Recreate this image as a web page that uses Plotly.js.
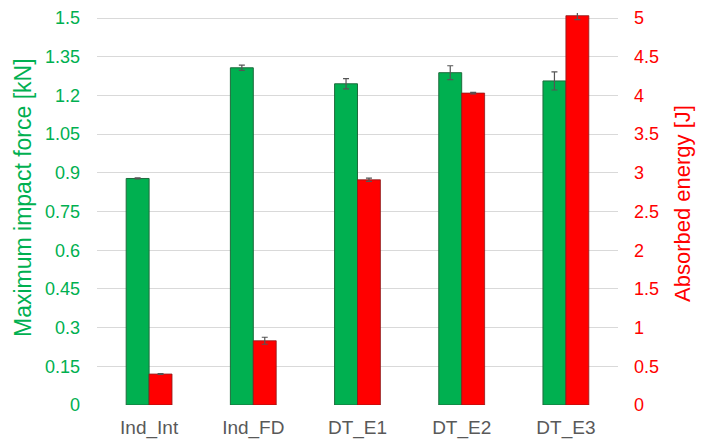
<!DOCTYPE html>
<html>
<head>
<meta charset="utf-8">
<script src="https://cdn.plot.ly/plotly-3.0.1.min.js"></script>
<style>html,body{margin:0;padding:0;background:#fff;}#chart{width:701px;height:446px;}</style>
</head>
<body>
<div id="chart"></div>
<script>
const categories = ["Ind_Int", "Ind_FD", "DT_E1", "DT_E2", "DT_E3"];
const forceValues = [0.878, 1.307, 1.245, 1.288, 1.256];
const forceErrors = [0.002, 0.010, 0.020, 0.027, 0.035];
const energyValues = [0.40, 0.83, 2.91, 4.03, 5.03];
const energyErrors = [0.005, 0.045, 0.02, 0.01, 0.05];
const leftTicks = [0, 0.15, 0.3, 0.45, 0.6, 0.75, 0.9, 1.05, 1.2, 1.35, 1.5];
const rightTicks = [0, 0.5, 1, 1.5, 2, 2.5, 3, 3.5, 4, 4.5, 5];
const leftTitle = "Maximum impact force [kN]";
const rightTitle = "Absorbed energy [J]";

const font = "Liberation Sans, Arial, sans-serif";
const green = "#00B050";
const red = "#FF0000";

// headroom so the tallest bar (just above 5 J) is not clipped; 1.5 / 5 stay at the same pixel row
const headroom = 392 / 387;

const traces = [
  {
    type: "bar", x: categories, y: forceValues, yaxis: "y",
    width: 0.22, offset: -0.22,
    marker: {color: green, line: {color: "#1E6B3C", width: 1}},
    error_y: {type: "data", array: forceErrors, visible: true, color: "#555555", thickness: 1.2, width: 3},
    hoverinfo: "skip"
  },
  {
    type: "bar", x: categories, y: energyValues, yaxis: "y2",
    width: 0.22, offset: 0,
    marker: {color: red, line: {color: "#8B1A1A", width: 0.8}},
    error_y: {type: "data", array: energyErrors, visible: true, color: "#555555", thickness: 1.2, width: 3},
    hoverinfo: "skip"
  }
];

const layout = {
  width: 701, height: 446,
  margin: {l: 97, r: 83, t: 13, b: 41},
  paper_bgcolor: "#fff", plot_bgcolor: "#fff",
  showlegend: false,
  font: {family: font},
  xaxis: {
    type: "category",
    tickfont: {size: 19, color: "#595959", family: font},
    showgrid: false, zeroline: false, showline: false, ticks: "",
    ticklabelstandoff: 9
  },
  yaxis: {
    range: [0, 1.5 * headroom], tickvals: leftTicks,
    ticktext: leftTicks.map(String),
    tickfont: {size: 18, color: green, family: font},
    gridcolor: "#D9D9D9", gridwidth: 1,
    zeroline: false, showline: false, ticks: "", ticklabelstandoff: 16
  },
  yaxis2: {
    range: [0, 5 * headroom], tickvals: rightTicks,
    ticktext: rightTicks.map(String),
    overlaying: "y", side: "right",
    tickfont: {size: 18, color: red, family: font},
    showgrid: false, zeroline: false, showline: false, ticks: "", ticklabelstandoff: 15
  },
  annotations: [
    {text: leftTitle, textangle: -90, xref: "paper", yref: "paper",
     x: -0.143, y: 0.5293, xanchor: "center", yanchor: "middle", showarrow: false,
     font: {size: 23, color: green, family: font}},
    {text: rightTitle, textangle: -90, xref: "paper", yref: "paper",
     x: 1.1248, y: 0.5128, xanchor: "center", yanchor: "middle", showarrow: false,
     font: {size: 22, color: red, family: font}}
  ]
};

Plotly.newPlot("chart", traces, layout, {displayModeBar: false, staticPlot: true});
</script>
</body>
</html>
